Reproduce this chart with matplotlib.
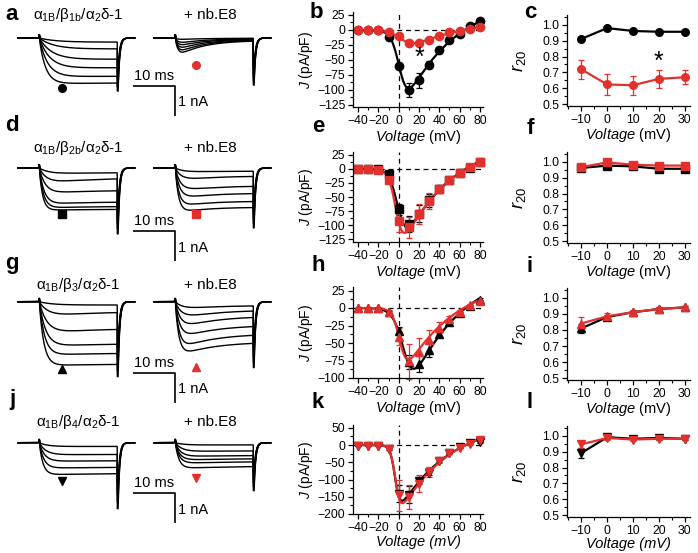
import numpy as np
import matplotlib
matplotlib.use("Agg")
import matplotlib.pyplot as plt
from matplotlib.ticker import MultipleLocator, FormatStrFormatter

plt.rcParams['font.family'] = ['Liberation Sans', 'DejaVu Sans']
plt.rcParams['mathtext.fontset'] = 'custom'
plt.rcParams['mathtext.rm'] = 'Liberation Sans'
plt.rcParams['mathtext.it'] = 'Liberation Sans:italic'
plt.rcParams['mathtext.bf'] = 'Liberation Sans:bold'

W, H = 698, 553
fig = plt.figure(figsize=(W / 100, H / 100), dpi=100)
RED = '#e2312d'

# ---------------- data ----------------
titles = [r'α$_{\rm 1B}$/β$_{\rm 1b}$/α$_{\rm 2}$δ-1',
          r'α$_{\rm 1B}$/β$_{\rm 2b}$/α$_{\rm 2}$δ-1',
          r'α$_{\rm 1B}$/β$_{\rm 3}$/α$_{\rm 2}$δ-1',
          r'α$_{\rm 1B}$/β$_{\rm 4}$/α$_{\rm 2}$δ-1']
nb_title = '+ nb.E8'
markers = ['o', 's', '^', 'v']

# current traces (peak amplitudes, nA)
a_ctrl_amp = [0.14, 0.37, 0.72, 1.01, 1.30, 1.53]
a_nb_amp = [0.06, 0.2, 0.31, 0.43, 0.55, 0.66]
d_ctrl_amp = [0.22, 0.57, 0.88, 1.23, 1.35, 1.42]
d_nb_amp = [0.15, 0.45, 0.8, 1.05, 1.3, 1.5]
g_ctrl_amp = [0.11, 0.57, 1.13, 1.53, 1.81, 2.15]
g_nb_amp = [0.28, 0.62, 0.96, 1.3, 1.64, 1.86]
j_ctrl_amp = [0.13, 0.41, 0.63, 0.86, 1.08]
j_nb_amp = [0.08, 0.3, 0.47, 0.59, 0.7, 0.87]

# I-V relations
volt = [-40, -30, -20, -10, 0, 10, 20, 30, 40, 50, 60, 70, 80]
b_ctrl = [0, 0, 0, -12, -60, -100, -84, -58, -34, -17, -6, 6, 15]
b_ctrl_err = [0, 0, 0, 2, 5, 11, 12, 6, 3, 2, 1, 1, 1]
b_nb = [0, 0, 0, -3, -10, -21, -22.5, -16, -10, -4, -1, 2, 5]
b_nb_err = [0, 0, 0, 1, 2, 3, 3, 2, 1, 1, 1, 1, 1]
e_ctrl = [0, 0, -1, -9, -72, -98, -80, -56, -35, -19, -7, 2, 12]
e_ctrl_err = [0, 0, 0, 2, 10, 15, 15, 12, 6, 3, 2, 1, 2]
e_nb = [0, 0, -2, -19, -92, -104, -80, -57, -35, -19, -7, 3, 12]
e_nb_err = [0, 0, 1, 4, 20, 18, 18, 14, 7, 3, 2, 2, 3]
h_ctrl = [0, 0, 0, -6, -33, -77, -80, -60, -37, -20, -7, 3, 12]
h_ctrl_err = [0, 0, 0, 2, 6, 10, 12, 10, 5, 3, 2, 1, 2]
h_nb = [0, 0, 0, -5, -41, -76, -63, -46, -28, -15, -5, 5, 10]
h_nb_err = [0, 0, 0, 2, 12, 25, 20, 15, 8, 4, 2, 1, 2]
k_ctrl = [-2, -2, -2, -12, -141, -144, -103, -80, -45, -22, -7, 6, 8]
k_ctrl_err = [1, 1, 1, 3, 25, 25, 10, 8, 5, 3, 2, 2, 2]
k_nb = [-2, -2, -2, -12, -146, -151, -112, -79, -45, -22, -8, 2, 15]
k_nb_err = [1, 1, 1, 3, 45, 35, 25, 15, 6, 3, 2, 2, 3]

# fit parameters: G, Vrev, u, V50, k
b_ctrl_fit = [0.356, 65, 22, 1.6, 4.0]
b_nb_fit = [0.099, 65, 22, 4.9, 6.0]
e_ctrl_fit = [0.347, 66, 22, 0.0, 4.1]
e_nb_fit = [0.347, 66, 22, -2.2, 3.5]
h_ctrl_fit = [0.366, 66, 22, 6.2, 5.0]
h_nb_fit = [0.277, 64, 22, 1.75, 3.57]
k_ctrl_fit = [0.446, 66, 22, -3.2, 2.37]
k_nb_fit = [0.47, 66, 22, -2.9, 2.41]

# r20
r_volt = [-10, 0, 10, 20, 30]
c_ctrl = [0.91, 0.978, 0.96, 0.955, 0.955]
c_ctrl_err = [0.01, 0.01, 0.01, 0.008, 0.008]
c_nb = [0.72, 0.625, 0.62, 0.66, 0.67]
c_nb_err = [0.06, 0.065, 0.06, 0.055, 0.045]
f_ctrl = [0.96, 0.975, 0.97, 0.955, 0.955]
f_ctrl_err = [0.01, 0.01, 0.01, 0.01, 0.01]
f_nb = [0.965, 0.995, 0.98, 0.975, 0.975]
f_nb_err = [0.01, 0.015, 0.01, 0.01, 0.01]
i_ctrl = [0.81, 0.88, 0.91, 0.93, 0.94]
i_ctrl_err = [0.03, 0.015, 0.01, 0.01, 0.01]
i_nb = [0.84, 0.885, 0.91, 0.93, 0.94]
i_nb_err = [0.04, 0.02, 0.015, 0.01, 0.01]
l_ctrl = [0.89, 0.99, 0.98, 0.985, 0.98]
l_ctrl_err = [0.03, 0.01, 0.01, 0.01, 0.01]
l_nb = [0.945, 0.985, 0.975, 0.98, 0.98]
l_nb_err = [0.02, 0.01, 0.01, 0.01, 0.01]


# ---------------- helpers ----------------
def px_axes(l, t, r, b):
    return fig.add_axes([l / W, 1 - b / H, (r - l) / W, (b - t) / H])


def ftext(x, y, s, **kw):
    fig.text(x / W, 1 - y / H, s, **kw)


PXMS = 4.17   # pixels per ms
PXNA = 30.0   # pixels per nA


def trace(t, t_on, t_off, amp, tau_a, ss, tau_i, tail, tau_t=0.4):
    I = np.zeros_like(t)
    on = (t >= t_on) & (t < t_off)
    tt = t[on] - t_on
    I[on] = -amp * (1 - np.exp(-tt / tau_a)) * (ss + (1 - ss) * np.exp(-tt / tau_i))
    I += 0.12 * np.exp(-((t - t_on) / 0.12) ** 2)
    off = t >= t_off
    to = t[off] - t_off
    I[off] = -tail * np.exp(-np.clip(to - 0.2, 0, None) / tau_t)
    return I


def draw_traces(ax, t0, amps, tau_a, ss, tau_i, tail_max):
    t_start, t_on, t_off, t_end = t0, t0 + 5.1, t0 + 23.8, t0 + 28.0
    t = np.arange(t_start, t_end, 0.01)
    n = len(amps)
    for i, a in enumerate(amps):
        ta = tau_a[i] if np.iterable(tau_a) else tau_a
        s = ss[i] if np.iterable(ss) else ss
        tail = tail_max * (0.6 + 0.4 * i / max(n - 1, 1))
        ax.plot(t, trace(t, t_on, t_off, a, ta, s, tau_i, tail), color='black', lw=1.0,
                solid_joinstyle='miter')


def ghk_boltz(V, p):
    G, Vrev, u, V50, k = p
    V = np.asarray(V, float)
    Vs = np.where(np.abs(V) < 1e-6, 1e-6, V)
    f = Vs * (1 - np.exp((Vrev - Vs) / u)) / (1 - np.exp(-Vs / u))
    return G * f / (1 + np.exp((V50 - V) / k))


# ---------------- trace panels ----------------
rows_base = [38, 168, 301.7, 442.7]
bar_rel = [48, 63, 71, 50.3]
title_rel = [-23, -20, -17, -21]
ctrl_mark_rel = [50, 46, 67, 38]
nb_mark_rel = [27, 46, 65, 35]
trace_sets = [
    (a_ctrl_amp, [4, 3.5, 3, 2.5, 2, 1.5], 0.97, 20, 1.77,
     a_nb_amp, 0.7, 0.12, 6.0, 1.57),
    (d_ctrl_amp, [2.5, 2, 1.5, 1.2, 1.0, 0.8], [0.7, 0.6, 0.85, 0.92, 0.95, 0.97], 8, 2.2,
     d_nb_amp, [2, 1.6, 1.3, 1.1, 0.9, 0.8], [0.7, 0.6, 0.75, 0.8, 0.85, 0.87], 7, 2.0),
    (g_ctrl_amp, [3, 2.5, 2, 1.6, 1.3, 1.1], [1.0, 0.6, 0.8, 0.92, 0.95, 0.97], 8, 2.5,
     g_nb_amp, [2, 1.7, 1.4, 1.2, 1.0, 0.9], [0.45, 0.45, 0.5, 0.6, 0.65, 0.72], 8, 2.2),
    (j_ctrl_amp, [2, 1.6, 1.3, 1.1, 0.9], 0.95, 10, 2.2,
     j_nb_amp, [2, 1.6, 1.3, 1.1, 1.0, 0.9], 0.9, 10, 1.6),
]

for r in range(4):
    yb = rows_base[r]
    ax = px_axes(10, yb - 30, 285, yb + 112)
    ax.set_xlim(0, 275 / PXMS)
    ax.set_ylim(-112 / PXNA, 30 / PXNA)
    ax.axis('off')
    (ca, cta, css, cti, ctail, na, nta, nss, nti, ntail) = trace_sets[r]
    draw_traces(ax, (18 - 10) / PXMS, ca, cta, css, cti, ctail)
    draw_traces(ax, (154 - 10) / PXMS, na, nta, nss, nti, ntail)
    # scale bar
    by = -bar_rel[r] / PXNA
    x1, x2 = (133 - 10) / PXMS, (175 - 10) / PXMS
    ax.plot([x1, x2, x2], [by, by, by - 1], color='black', lw=1.2, solid_capstyle='butt')
    ax.text((x1 + x2) / 2, by + 0.1, '10 ms', ha='center', va='bottom', fontsize=10.5)
    ax.text(x2 + 0.7, by - 0.55, '1 nA', ha='left', va='center', fontsize=10.5)
    # symbols
    ax.plot((62 - 10) / PXMS, -ctrl_mark_rel[r] / PXNA, marker=markers[r], color='black',
            ms=5.5, ls='none')
    ax.plot((196 - 10) / PXMS, -nb_mark_rel[r] / PXNA, marker=markers[r], color=RED,
            ms=5.5, ls='none')
    ftext(78, yb + title_rel[r], titles[r], ha='center', va='center', fontsize=11)
    ftext(210, yb + title_rel[r], nb_title, ha='center', va='center', fontsize=11)

# ---------------- I-V panels ----------------
iv_boxes = [(12, 107), (152, 242), (287, 378), (425, 514)]
iv_ylims = [(-128.5, 30), (-130, 30), (-100, 30), (-200, 58)]
iv_major = [25, 25, 25, 50]
iv_sets = [(b_ctrl, b_ctrl_err, b_ctrl_fit, b_nb, b_nb_err, b_nb_fit),
           (e_ctrl, e_ctrl_err, e_ctrl_fit, e_nb, e_nb_err, e_nb_fit),
           (h_ctrl, h_ctrl_err, h_ctrl_fit, h_nb, h_nb_err, h_nb_fit),
           (k_ctrl, k_ctrl_err, k_ctrl_fit, k_nb, k_nb_err, k_nb_fit)]

r_boxes = [(15, 106), (152, 243), (288, 380), (426, 517)]


def style_axes(ax):
    for s in ['top', 'right']:
        ax.spines[s].set_visible(False)
    for s in ['left', 'bottom']:
        ax.spines[s].set_linewidth(0.9)
    ax.tick_params(which='major', direction='out', length=3.5, width=0.9, labelsize=8.8, pad=2)
    ax.tick_params(which='minor', direction='out', length=2, width=0.8)


vv = np.linspace(-40, 80, 481)
for r in range(4):
    t, b = iv_boxes[r]
    ax = px_axes(353, t, 483, b)
    style_axes(ax)
    ax.set_xlim(-45, 83)
    ax.set_ylim(*iv_ylims[r])
    ax.xaxis.set_major_locator(MultipleLocator(20))
    ax.xaxis.set_minor_locator(MultipleLocator(10))
    ax.yaxis.set_major_locator(MultipleLocator(iv_major[r]))
    ax.yaxis.set_minor_locator(MultipleLocator(iv_major[r] / 2))
    ax.axhline(0, color='black', lw=0.9, ls=(0, (4, 3)))
    ax.axvline(0, color='black', lw=0.9, ls=(0, (4, 3)))
    cy, ce, cf, ny, ne, nf = iv_sets[r]
    ax.plot(vv, ghk_boltz(vv, cf), color='black', lw=1.6)
    ax.errorbar(volt, cy, yerr=ce, fmt=markers[r], color='black', ms=6, elinewidth=0.9,
                capsize=2, capthick=0.9, clip_on=False)
    ax.plot(vv, ghk_boltz(vv, nf), color=RED, lw=1.6)
    ax.errorbar(volt, ny, yerr=ne, fmt=markers[r], color=RED, ms=6, elinewidth=0.9,
                capsize=2, capthick=0.9, clip_on=False)
    ax.set_ylabel(r'$J$ (pA/pF)', fontsize=10)
    ax.yaxis.set_label_coords((315 - 353) / 130, 0.5)
    if r < 3:
        ax.set_xlabel(r'$Voltage$ (mV)', fontsize=10.5)
    else:
        ax.set_xlabel('Voltage (mV)', fontsize=10.5, style='italic')
    ax.xaxis.set_label_coords(0.5, -21 / (b - t))
    if r == 0:
        ax.text(20, -46, '*', ha='center', va='center', fontsize=18)

# ---------------- r20 panels ----------------
r_sets = [(c_ctrl, c_ctrl_err, c_nb, c_nb_err),
          (f_ctrl, f_ctrl_err, f_nb, f_nb_err),
          (i_ctrl, i_ctrl_err, i_nb, i_nb_err),
          (l_ctrl, l_ctrl_err, l_nb, l_nb_err)]
for r in range(4):
    t, b = r_boxes[r]
    ax = px_axes(567, t, 690, b)
    style_axes(ax)
    ax.set_xlim(-15.5, 32)
    ax.set_ylim(0.49, 1.06)
    ax.xaxis.set_major_locator(MultipleLocator(10))
    ax.xaxis.set_minor_locator(MultipleLocator(5))
    ax.yaxis.set_major_locator(MultipleLocator(0.1))
    ax.yaxis.set_minor_locator(MultipleLocator(0.05))
    ax.yaxis.set_major_formatter(FormatStrFormatter('%.1f'))
    cy, ce, ny, ne = r_sets[r]
    ax.errorbar(r_volt, cy, yerr=ce, fmt=markers[r] + '-', color='black', ms=5.5, lw=1.6,
                elinewidth=0.9, capsize=2, capthick=0.9, clip_on=False)
    ax.errorbar(r_volt, ny, yerr=ne, fmt=markers[r] + '-', color=RED, ms=5.5, lw=1.6,
                elinewidth=0.9, capsize=2, capthick=0.9, clip_on=False)
    ax.set_ylabel(r'$r_{20}$', fontsize=13.5)
    ax.yaxis.set_label_coords((528 - 567) / 123, 0.5)
    if r < 3:
        ax.set_xlabel(r'$Voltage$ (mV)', fontsize=10.5)
    else:
        ax.set_xlabel('Voltage (mV)', fontsize=10.5, style='italic')
    ax.xaxis.set_label_coords(0.5, -20 / (b - t))
    if r == 0:
        ax.text(20, 0.765, '*', ha='center', va='center', fontsize=18)

# ---------------- panel letters ----------------
letters = [('a', 12, 14), ('b', 316, 13), ('c', 530, 13),
           ('d', 12, 125), ('e', 318, 127), ('f', 530, 129),
           ('g', 12, 263), ('h', 318, 265), ('i', 530, 266),
           ('j', 12, 400), ('k', 318, 403), ('l', 530, 403)]
for s, x, y in letters:
    ftext(x, y, s, ha='center', va='center', fontsize=16, fontweight='bold')

fig.savefig('out.png', dpi=100)
